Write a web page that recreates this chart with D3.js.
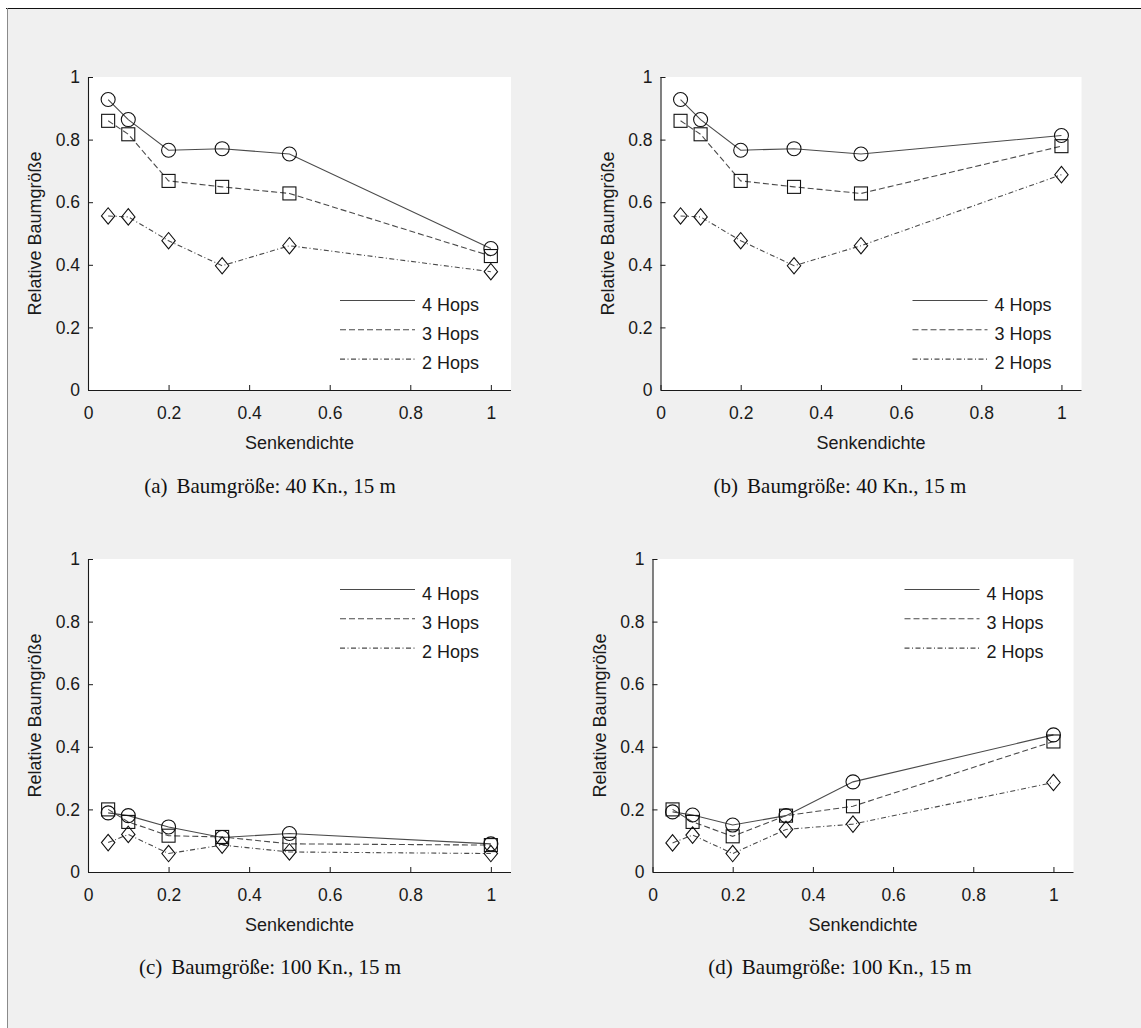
<!DOCTYPE html>
<html>
<head>
<meta charset="utf-8">
<script src="https://cdn.jsdelivr.net/npm/d3@7"></script>
<style>
  html, body { margin: 0; padding: 0; background: #ffffff; }
  svg { display: block; }
</style>
</head>
<body>
<svg id="chart" width="1141" height="1028"></svg>
<script>
// ---------- data ----------
const senkendichte = [0.05, 0.1, 0.2, 0.333, 0.5, 1];
const xTicks = [0, 0.2, 0.4, 0.6, 0.8, 1];
const yTicks = [0, 0.2, 0.4, 0.6, 0.8, 1];
const seriesNames = ["4 Hops", "3 Hops", "2 Hops"];

const hops4_a = [0.928, 0.864, 0.766, 0.771, 0.754, 0.452];
const hops3_a = [0.860, 0.817, 0.668, 0.649, 0.628, 0.428];
const hops2_a = [0.556, 0.553, 0.477, 0.397, 0.461, 0.378];

const hops4_b = [0.928, 0.864, 0.766, 0.771, 0.754, 0.813];
const hops3_b = [0.860, 0.817, 0.668, 0.649, 0.628, 0.779];
const hops2_b = [0.556, 0.553, 0.477, 0.397, 0.461, 0.688];

const hops4_c = [0.189, 0.180, 0.144, 0.110, 0.123, 0.090];
const hops3_c = [0.200, 0.160, 0.116, 0.112, 0.090, 0.086];
const hops2_c = [0.094, 0.120, 0.059, 0.086, 0.064, 0.059];

const hops4_d = [0.192, 0.182, 0.150, 0.180, 0.288, 0.438];
const hops3_d = [0.200, 0.160, 0.114, 0.180, 0.210, 0.417];
const hops2_d = [0.093, 0.118, 0.059, 0.136, 0.153, 0.286];

const captionLabels = ["(a)", "(b)", "(c)", "(d)"];
const captionTexts = ["Baumgröße: 40 Kn., 15 m", "Baumgröße: 40 Kn., 15 m",
                      "Baumgröße: 100 Kn., 15 m", "Baumgröße: 100 Kn., 15 m"];
const xLabel = "Senkendichte";
const yLabel = "Relative Baumgröße";

// ---------- layout ----------
const panels = [
  { left: 88,    top: 77,  w: 423, h: 313, series: [hops4_a, hops3_a, hops2_a], legend: "bottom", capX: 270, capY: 493 },
  { left: 660.5, top: 77,  w: 421, h: 313, series: [hops4_b, hops3_b, hops2_b], legend: "bottom", capX: 840, capY: 493 },
  { left: 88,    top: 559, w: 423, h: 313, series: [hops4_c, hops3_c, hops2_c], legend: "top",    capX: 270, capY: 974 },
  { left: 652.5, top: 559, w: 421, h: 313, series: [hops4_d, hops3_d, hops2_d], legend: "top",    capX: 840, capY: 974 }
];

const lineStyles = [
  { dash: null,        color: "#4a4a4a", width: 1.1 },
  { dash: "6,3",       color: "#4a4a4a", width: 1.1 },
  { dash: "5,2.5,1,2.5", color: "#4a4a4a", width: 1.1 }
];
const markerTypes = ["circle", "square", "diamond"];

const svg = d3.select("#chart");
const W = 1141, H = 1028;

svg.append("rect").attr("x", 0).attr("y", 0).attr("width", W).attr("height", H).attr("fill", "#ffffff");
svg.append("rect").attr("x", 7).attr("y", 8).attr("width", W - 7).attr("height", H - 8).attr("fill", "#f0f0f0");
svg.append("line").attr("x1", 6).attr("x2", W).attr("y1", 8.5).attr("y2", 8.5).attr("stroke", "#111").attr("stroke-width", 1.2);
svg.append("line").attr("x1", 7.5).attr("x2", 7.5).attr("y1", 8).attr("y2", H).attr("stroke", "#8a8a8a").attr("stroke-width", 1);

const sansFont = "'Liberation Sans', Arial, Helvetica, sans-serif";
const serifFont = "'Liberation Serif', 'Times New Roman', serif";

function drawMarker(g, type, cx, cy) {
  if (type === "circle") {
    g.append("circle").attr("cx", cx).attr("cy", cy).attr("r", 7)
      .attr("fill", "none").attr("stroke", "#111").attr("stroke-width", 1.1);
  } else if (type === "square") {
    g.append("rect").attr("x", cx - 6.5).attr("y", cy - 6.5).attr("width", 13).attr("height", 13)
      .attr("fill", "none").attr("stroke", "#111").attr("stroke-width", 1.1);
  } else {
    const hw = 6.7, hh = 8.2;
    g.append("path").attr("d", `M${cx},${cy - hh}L${cx + hw},${cy}L${cx},${cy + hh}L${cx - hw},${cy}Z`)
      .attr("fill", "none").attr("stroke", "#111").attr("stroke-width", 1.1);
  }
}

panels.forEach((p, pi) => {
  const g = svg.append("g").attr("transform", `translate(${p.left},${p.top})`);
  const x = d3.scaleLinear().domain([0, 1]).range([0, p.w * (1 / 1.05)]);
  const y = d3.scaleLinear().domain([0, 1]).range([p.h, 0]);

  g.append("rect").attr("x", 0).attr("y", 0).attr("width", p.w).attr("height", p.h).attr("fill", "#ffffff");

  // axes
  const xAxis = d3.axisBottom(x).tickValues(xTicks).tickFormat(d => d3.format("~g")(d))
    .tickSizeInner(-5).tickSizeOuter(0).tickPadding(17);
  const yAxis = d3.axisLeft(y).tickValues(yTicks).tickFormat(d => d3.format("~g")(d))
    .tickSizeInner(-5).tickSizeOuter(0).tickPadding(8);

  const gx = g.append("g").attr("transform", `translate(0,${p.h})`).call(xAxis);
  gx.select(".domain").attr("d", `M0,0.5H${p.w}`);
  const gy = g.append("g").call(yAxis);
  gy.select(".domain").attr("d", `M0.5,${p.h}V0`);

  [gx, gy].forEach(ax => {
    ax.selectAll(".domain").attr("stroke", "#1a1a1a").attr("stroke-width", 1.1);
    ax.selectAll(".tick line").attr("stroke", "#1a1a1a").attr("stroke-width", 1);
    ax.selectAll(".tick text").attr("font-family", sansFont).attr("font-size", 17.5).attr("fill", "#1a1a1a");
  });
  gy.selectAll(".tick").filter(d => d === 0).select("line").remove();

  // axis labels
  g.append("text").attr("x", p.w / 2).attr("y", p.h + 59)
    .attr("text-anchor", "middle").attr("font-family", sansFont).attr("font-size", 18).attr("fill", "#1a1a1a")
    .text(xLabel);
  g.append("text").attr("transform", `translate(${-47},${p.h / 2}) rotate(-90)`)
    .attr("text-anchor", "middle").attr("font-family", sansFont).attr("font-size", 18).attr("fill", "#1a1a1a")
    .text(yLabel);

  // series
  const line = d3.line().x((d, i) => x(senkendichte[i])).y(d => y(d));
  p.series.forEach((vals, si) => {
    const st = lineStyles[si];
    g.append("path").datum(vals).attr("d", line)
      .attr("fill", "none").attr("stroke", st.color).attr("stroke-width", st.width)
      .attr("stroke-dasharray", st.dash);
  });
  p.series.forEach((vals, si) => {
    vals.forEach((v, i) => drawMarker(g, markerTypes[si], x(senkendichte[i]), y(v)));
  });

  // legend
  const legTop = p.legend === "bottom" ? 223.5 : 30.5;
  seriesNames.forEach((name, si) => {
    const ly = legTop + si * 29.3;
    const st = lineStyles[si];
    g.append("line").attr("x1", 252).attr("x2", 327).attr("y1", ly).attr("y2", ly)
      .attr("stroke", st.color).attr("stroke-width", st.width).attr("stroke-dasharray", st.dash);
    g.append("text").attr("x", 334).attr("y", ly + 10)
      .attr("font-family", sansFont).attr("font-size", 18).attr("fill", "#1a1a1a").text(name);
  });

  // caption
  const cap = svg.append("text").attr("x", p.capX).attr("y", p.capY)
    .attr("text-anchor", "middle").attr("font-family", serifFont).attr("font-size", 21).attr("fill", "#111");
  cap.append("tspan").text(captionLabels[pi]);
  cap.append("tspan").attr("dx", 9).text(captionTexts[pi]);
});
</script>
</body>
</html>
